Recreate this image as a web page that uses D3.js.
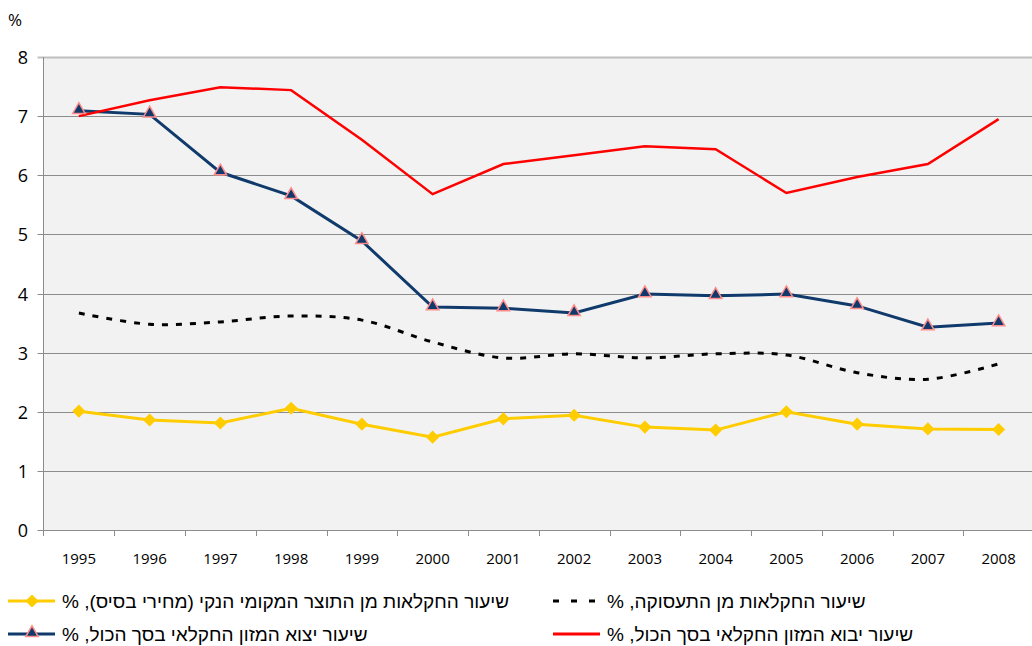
<!DOCTYPE html>
<html>
<head>
<meta charset="utf-8">
<script src="https://cdn.jsdelivr.net/npm/d3@7"></script>
<style>
  body { margin: 0; background: #fff; }
  text { font-family: "Open Sans", "DejaVu Sans", sans-serif; fill: #000; }
  text.legend { font-family: "Liberation Sans", "DejaVu Sans", sans-serif; }
</style>
</head>
<body>
<div id="container-svg"></div>
<script>
// ************************** DATA **************************
var years = [1995, 1996, 1997, 1998, 1999, 2000, 2001, 2002, 2003, 2004, 2005, 2006, 2007, 2008];

var import_share = [7.0, 7.27, 7.49, 7.44, 6.6, 5.68, 6.19, 6.34, 6.49, 6.44, 5.70, 5.97, 6.19, 6.95];
var export_share = [7.09, 7.03, 6.05, 5.65, 4.89, 3.77, 3.75, 3.67, 3.99, 3.96, 3.99, 3.79, 3.43, 3.50];
var employment_share = [3.67, 3.48, 3.52, 3.62, 3.55, 3.18, 2.91, 2.98, 2.91, 2.98, 2.96, 2.66, 2.55, 2.81];
var gdp_share = [2.01, 1.86, 1.81, 2.06, 1.79, 1.57, 1.88, 1.94, 1.74, 1.69, 2.0, 1.79, 1.71, 1.70];

var y_ticks = [0, 1, 2, 3, 4, 5, 6, 7, 8];

var legend_labels = [
    "שיעור החקלאות מן התוצר המקומי הנקי (מחירי בסיס), %",
    "שיעור החקלאות מן התעסוקה, %",
    "שיעור יצוא המזון החקלאי בסך הכול, %",
    "שיעור יבוא המזון החקלאי בסך הכול, %"
];

// ********************** DISPLAY VARS **********************
var svg_width = 1032,
    svg_height = 646;

var plot = {left: 43.5, right: 1034, top: 57, bottom: 530};

var color_red = "#ff0000",
    color_navy = "#0f3a6b",
    color_gold = "#ffcc00",
    color_marker_edge = "#ff8c8c",
    color_grid = "#8c8c8c";

var svg = d3.select("#container-svg").append("svg")
    .attr("width", svg_width)
    .attr("height", svg_height);

// ************************* SCALES *************************
var scale_x = d3.scaleBand()
    .domain(years)
    .range([plot.left, plot.right]);

var scale_y = d3.scaleLinear()
    .domain([0, 8])
    .range([plot.bottom, plot.top]);

function cx(i) { return scale_x(years[i]) + scale_x.bandwidth() / 2; }

// ********************** BACKGROUND ************************
svg.append("rect")
    .attr("x", plot.left)
    .attr("y", plot.top)
    .attr("width", plot.right - plot.left)
    .attr("height", plot.bottom - plot.top)
    .attr("fill", "#f2f2f2");

// gridlines
svg.selectAll("line.grid")
    .data(y_ticks)
    .enter()
    .append("line")
    .attr("class", "grid")
    .attr("x1", plot.left - 6)
    .attr("x2", plot.right)
    .attr("y1", d => Math.round(scale_y(d)) + 0.5)
    .attr("y2", d => Math.round(scale_y(d)) + 0.5)
    .attr("stroke", d => d == 8 ? "#bfbfbf" : color_grid)
    .attr("stroke-width", d => d == 8 ? 2 : 1);

// y axis line
svg.append("line")
    .attr("x1", plot.left).attr("x2", plot.left)
    .attr("y1", plot.top).attr("y2", plot.bottom + 6)
    .attr("stroke", color_grid);

// x tick marks at band boundaries
svg.selectAll("line.xtick")
    .data(years.slice(1))
    .enter()
    .append("line")
    .attr("class", "xtick")
    .attr("x1", d => Math.round(scale_x(d)) + 0.5)
    .attr("x2", d => Math.round(scale_x(d)) + 0.5)
    .attr("y1", plot.bottom)
    .attr("y2", plot.bottom + 6)
    .attr("stroke", color_grid);

// y labels
svg.selectAll("text.ylab")
    .data(y_ticks)
    .enter()
    .append("text")
    .attr("class", "ylab")
    .attr("x", 28)
    .attr("y", d => scale_y(d))
    .attr("text-anchor", "end")
    .attr("dominant-baseline", "central")
    .style("font-size", "18px")
    .text(d => d);

// x labels
svg.selectAll("text.xlab")
    .data(years)
    .enter()
    .append("text")
    .attr("class", "xlab")
    .attr("x", (d, i) => cx(i))
    .attr("y", 558)
    .attr("text-anchor", "middle")
    .attr("dominant-baseline", "central")
    .style("font-size", "15px")
    .text(d => d);

svg.append("text")
    .attr("x", 8)
    .attr("y", 19)
    .attr("dominant-baseline", "central")
    .style("font-size", "17px")
    .text("%");

// ************************* LINES **************************
var line = d3.line()
    .x((d, i) => cx(i))
    .y(d => scale_y(d));

var line_smooth = d3.line()
    .x((d, i) => cx(i))
    .y(d => scale_y(d))
    .curve(d3.curveCatmullRom.alpha(0.5));

svg.append("path")
    .attr("d", line_smooth(employment_share))
    .attr("fill", "none")
    .attr("stroke", "#000")
    .attr("stroke-width", 3)
    .attr("stroke-dasharray", "6,8");

svg.append("path")
    .attr("d", line(gdp_share))
    .attr("fill", "none")
    .attr("stroke", color_gold)
    .attr("stroke-width", 3);

svg.append("path")
    .attr("d", line(export_share))
    .attr("fill", "none")
    .attr("stroke", color_navy)
    .attr("stroke-width", 3);

svg.append("path")
    .attr("d", line(import_share))
    .attr("fill", "none")
    .attr("stroke", color_red)
    .attr("stroke-width", 2.5);

// markers
var diamond = d3.symbol().type(d3.symbolDiamond2).size(110);
var triangle = d3.symbol().type(d3.symbolTriangle2).size(110);

svg.selectAll("path.gdp")
    .data(gdp_share)
    .enter()
    .append("path")
    .attr("class", "gdp")
    .attr("d", diamond)
    .attr("transform", (d, i) => "translate(" + cx(i) + "," + scale_y(d) + ")")
    .attr("fill", color_gold);

svg.selectAll("path.exp")
    .data(export_share)
    .enter()
    .append("path")
    .attr("class", "exp")
    .attr("d", triangle)
    .attr("transform", (d, i) => "translate(" + cx(i) + "," + (scale_y(d) - 1) + ")")
    .attr("fill", color_navy)
    .attr("stroke", color_marker_edge)
    .attr("stroke-width", 1.5);

// ************************* LEGEND *************************
var legend_items = [
    {x: 8, y: 601, label: legend_labels[0], kind: "gdp"},
    {x: 553, y: 601, label: legend_labels[1], kind: "emp"},
    {x: 8, y: 634, label: legend_labels[2], kind: "exp"},
    {x: 553, y: 634, label: legend_labels[3], kind: "imp"}
];

legend_items.forEach(function(it) {
    var g = svg.append("g").attr("transform", "translate(" + it.x + "," + it.y + ")");
    if (it.kind == "emp") {
        g.append("line").attr("x1", 0).attr("x2", 47).attr("y1", 0).attr("y2", 0)
            .attr("stroke", "#000").attr("stroke-width", 3).attr("stroke-dasharray", "6,12");
    } else {
        var col = it.kind == "gdp" ? color_gold : (it.kind == "exp" ? color_navy : color_red);
        g.append("line").attr("x1", 0).attr("x2", 47).attr("y1", 0).attr("y2", 0)
            .attr("stroke", col).attr("stroke-width", 3);
        if (it.kind == "gdp") {
            g.append("path").attr("d", diamond).attr("transform", "translate(24,0)").attr("fill", color_gold);
        }
        if (it.kind == "exp") {
            g.append("path").attr("d", triangle).attr("transform", "translate(24,-1)")
                .attr("fill", color_navy).attr("stroke", color_marker_edge).attr("stroke-width", 1.5);
        }
    }
    g.append("text")
        .attr("class", "legend")
        .attr("x", 54)
        .attr("y", 0)
        .attr("direction", "rtl")
        .attr("text-anchor", "end")
        .attr("dominant-baseline", "central")
        .style("font-size", "19px")
        .text(it.label);
});
</script>
</body>
</html>
